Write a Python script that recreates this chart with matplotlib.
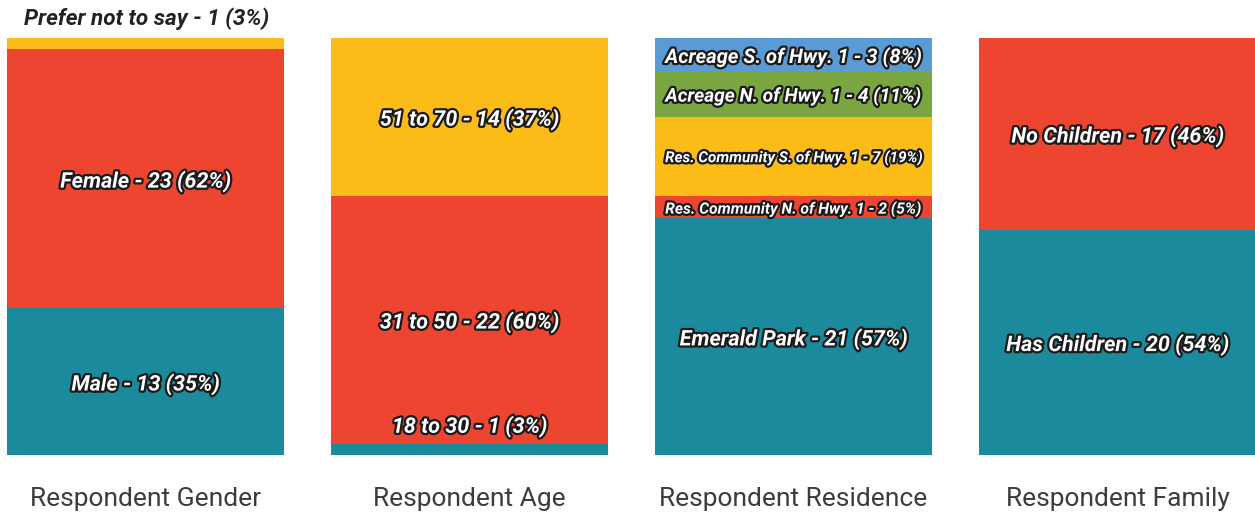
import matplotlib.pyplot as plt
import matplotlib.patheffects as pe

# chart titles (shown under each bar)
titles = ["Respondent Gender", "Respondent Age", "Respondent Residence", "Respondent Family"]

# segments of each bar, bottom to top
gender_names = ["Male", "Female", "Prefer not to say"]
gender_counts = [13, 23, 1]
gender_pcts = [35, 62, 3]

age_names = ["18 to 30", "31 to 50", "51 to 70"]
age_counts = [1, 22, 14]
age_pcts = [3, 60, 37]

res_names = ["Emerald Park", "Res. Community N. of Hwy. 1", "Res. Community S. of Hwy. 1",
             "Acreage N. of Hwy. 1", "Acreage S. of Hwy. 1"]
res_counts = [21, 2, 7, 4, 3]
res_pcts = [57, 5, 19, 11, 8]

family_names = ["Has Children", "No Children"]
family_counts = [20, 17]
family_pcts = [54, 46]

groups = [
    (gender_names, gender_counts, gender_pcts),
    (age_names, age_counts, age_pcts),
    (res_names, res_counts, res_pcts),
    (family_names, family_counts, family_pcts),
]

colors = ["#1a8a9c", "#ee4530", "#fbbc18", "#79a640", "#5a9bd5"]

FONT = ["Roboto", "DejaVu Sans"]
BAR_W = 0.855

fig = plt.figure(figsize=(12.55, 5.17), dpi=100)
ax = fig.add_axes([7 / 1255, 62 / 517, 1249 / 1255, 417 / 517])
ax.set_xlim(0, 3 + BAR_W)
ax.set_ylim(0, 37)
ax.axis("off")

outline = [pe.withStroke(linewidth=3.2, foreground="#1a1a1a")]
fig.canvas.draw()
renderer = fig.canvas.get_renderer()
bar_px = BAR_W / (3 + BAR_W) * 1249


def fit_text(t, max_px):
    # shrink label until it fits inside the bar
    size = t.get_fontsize()
    while t.get_window_extent(renderer).width > max_px and size > 6:
        size -= 0.25
        t.set_fontsize(size)


for i, (names, counts, pcts) in enumerate(groups):
    bottom = 0
    for j, (n, c, p) in enumerate(zip(names, counts, pcts)):
        ax.bar(i, c, width=BAR_W, bottom=bottom, align="edge", color=colors[j], linewidth=0)
        label = f"{n} - {c} ({p}%)"
        y = bottom + c / 2
        if i == 0 and j == len(names) - 1:
            # tiny top segment: label sits above the bar
            t = ax.text(i + 0.052, 37 + 1.75, label, ha="left", va="center", fontsize=16.2,
                        fontweight="bold", fontstyle="italic", color="#222222",
                        family=FONT, clip_on=False)
        else:
            if c < 2:
                y = bottom + c + 1.75
            t = ax.text(i + BAR_W / 2, y, label, ha="center", va="center_baseline",
                        fontsize=15.5, fontweight="bold", fontstyle="italic", color="white",
                        family=FONT, path_effects=outline)
            fit_text(t, bar_px * 0.93)
        bottom += c
    ax.text(i + BAR_W / 2, -3.9, titles[i], ha="center", va="center", fontsize=19,
            color="#3a3d3a", family=FONT)

fig.savefig("out.png", dpi=100)
